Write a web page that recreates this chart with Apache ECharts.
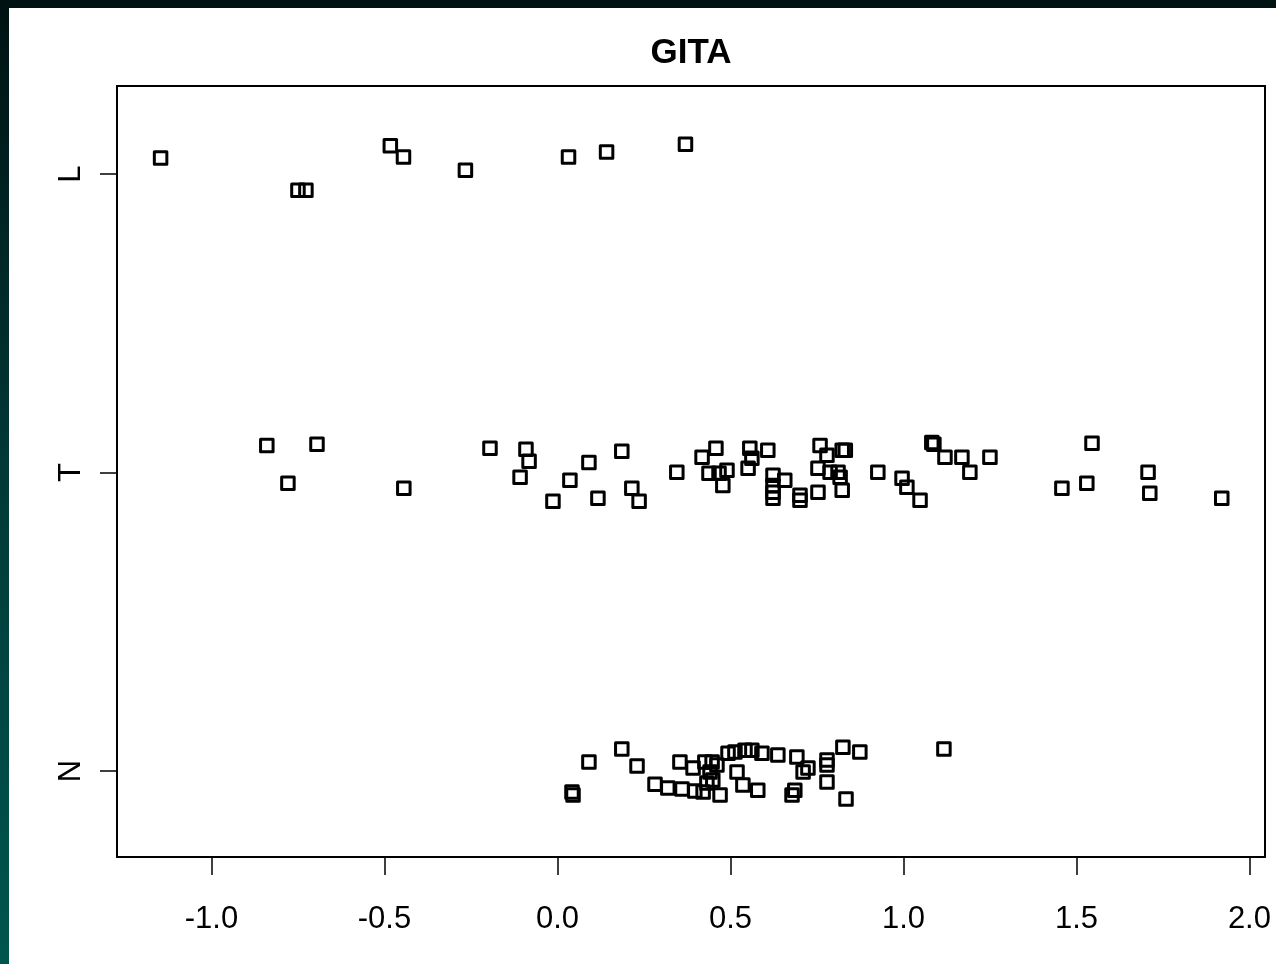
<!DOCTYPE html>
<html>
<head>
<meta charset="utf-8">
<script src="https://cdn.jsdelivr.net/npm/echarts@6/dist/echarts.min.js"></script>
<style>
html,body{margin:0;padding:0;width:1276px;height:964px;overflow:hidden;}
body{background:linear-gradient(to bottom,#001212 0%,#003a38 50%,#00564f 100%);position:relative;}
#paper{position:absolute;left:9px;top:8px;width:1267px;height:956px;background:#ffffff;}
#chart{position:absolute;left:0;top:0;width:1276px;height:964px;}
</style>
</head>
<body>
<div id="paper"></div>
<div id="chart"></div>
<script>
// Group labels (y positions 1, 2, 3)
const groupNames = ['N', 'T', 'L'];
const xTicks = [-1.0, -0.5, 0.0, 0.5, 1.0, 1.5, 2.0];

// GITA values per group and their read-off vertical jitter
const L_x = [-1.147, -0.750, -0.727, -0.483, -0.445, -0.266, 0.032, 0.142, 0.370];
const L_j = [0.054, -0.054, -0.054, 0.095, 0.057, 0.013, 0.057, 0.074, 0.100];

const T_x = [-0.840, -0.695, -0.779, -0.444, -0.195, -0.091, -0.082, -0.108, -0.013, 0.036,
  0.091, 0.186, 0.117, 0.215, 0.236, 0.345, 0.418, 0.458, 0.438, 0.467,
  0.478, 0.490, 0.556, 0.608, 0.551, 0.562, 0.623, 0.623, 0.623, 0.623,
  0.657, 0.701, 0.701, 0.759, 0.753, 0.753, 0.779, 0.788, 0.811, 0.823,
  0.832, 0.823, 0.817, 0.926, 0.996, 1.010, 1.048, 1.082, 1.088, 1.120,
  1.169, 1.192, 1.250, 1.545, 1.458, 1.530, 1.707, 1.712, 1.920];
const T_j = [0.091, 0.095, -0.036, -0.053, 0.081, 0.078, 0.038, -0.016, -0.096, -0.026,
  0.034, 0.071, -0.086, -0.053, -0.096, 0.001, 0.051, 0.081, -0.002, -0.002,
  -0.043, 0.008, 0.081, 0.075, 0.014, 0.048, -0.009, -0.043, -0.066, -0.086,
  -0.026, -0.076, -0.093, 0.091, 0.014, -0.066, 0.058, 0.001, 0.001, 0.075,
  0.075, -0.059, -0.016, 0.001, -0.019, -0.049, -0.093, 0.101, 0.095, 0.051,
  0.051, 0.001, 0.051, 0.098, -0.053, -0.036, 0.001, -0.069, -0.086];

const N_x = [0.042, 0.045, 0.091, 0.186, 0.230, 0.282, 0.319, 0.354, 0.360, 0.392,
  0.397, 0.421, 0.426, 0.432, 0.441, 0.447, 0.449, 0.470, 0.461, 0.493,
  0.519, 0.513, 0.542, 0.536, 0.562, 0.579, 0.591, 0.637, 0.692, 0.678,
  0.686, 0.710, 0.724, 0.779, 0.779, 0.779, 0.825, 0.874, 0.834, 1.117];
const N_j = [-0.070, -0.080, 0.030, 0.074, 0.017, -0.044, -0.057, 0.030, -0.060, 0.010,
  -0.067, -0.070, 0.030, -0.040, -0.003, 0.030, -0.030, -0.080, 0.020, 0.060,
  -0.003, 0.064, 0.070, -0.047, 0.070, -0.064, 0.060, 0.054, 0.047, -0.080,
  -0.064, -0.003, 0.010, 0.037, 0.020, -0.037, 0.080, 0.064, -0.094, 0.074];

function pts(xs, js, level) {
  return xs.map((x, i) => [x, level + js[i]]);
}
const data = []
  .concat(pts(N_x, N_j, 1))
  .concat(pts(T_x, T_j, 2))
  .concat(pts(L_x, L_j, 3));

const font = '"Liberation Sans", Arial, Helvetica, sans-serif';
const chart = echarts.init(document.getElementById('chart'), null, {renderer: 'canvas'});
chart.setOption({
  animation: false,
  backgroundColor: 'transparent',
  title: {
    text: 'GITA',
    left: 686, top: 31,
    textAlign: 'center',
    textStyle: {fontFamily: font, fontWeight: 'bold', fontSize: 35, color: '#000'}
  },
  grid: {
    left: 117, top: 86, width: 1148, height: 771,
    show: true, borderColor: '#000', borderWidth: 2, backgroundColor: 'transparent'
  },
  xAxis: {
    type: 'value', min: -1.273, max: 2.045,
    splitLine: {show: false},
    axisLine: {show: false, onZero: false},
    axisTick: {show: true, length: 18, lineStyle: {color: '#000', width: 1.5}, customValues: xTicks},
    axisLabel: {
      customValues: xTicks, margin: 47, fontFamily: font, fontSize: 31, lineHeight: 31, color: '#000',
      formatter: v => v.toFixed(1)
    }
  },
  yAxis: {
    type: 'value', min: 0.712, max: 3.295,
    splitLine: {show: false},
    axisLine: {show: false, onZero: false},
    axisTick: {show: true, length: 17, lineStyle: {color: '#000', width: 1.5}, customValues: [1, 2, 3]},
    axisLabel: {
      customValues: [1, 2, 3], rotate: 90, margin: 30, fontFamily: font, fontSize: 31, color: '#000',
      formatter: v => groupNames[Math.round(v) - 1]
    }
  },
  series: [{
    type: 'scatter',
    data: data,
    symbol: 'rect',
    symbolSize: 12.5,
    itemStyle: {color: 'rgba(0,0,0,0)', borderColor: '#000', borderWidth: 3, borderJoin: 'round', opacity: 1},
    emphasis: {disabled: true}
  }]
});
</script>
</body>
</html>
